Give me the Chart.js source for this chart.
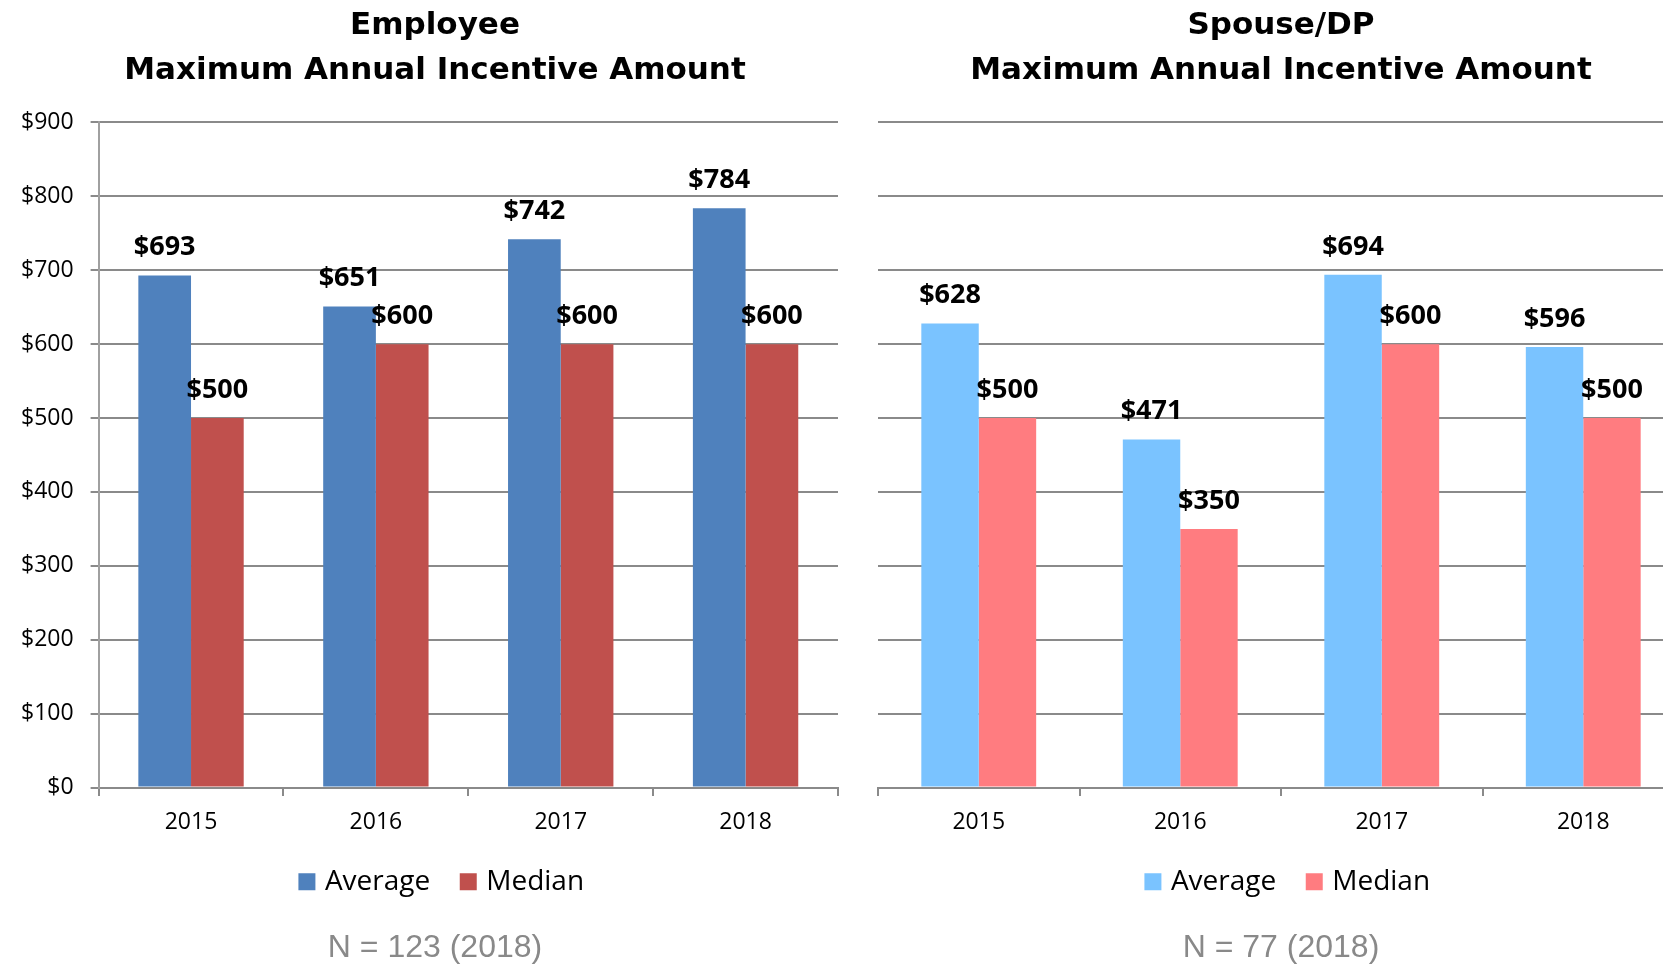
<!DOCTYPE html>
<html><head><meta charset="utf-8">
<script src="https://cdn.jsdelivr.net/npm/chart.js@4.4.1/dist/chart.umd.min.js"></script>
<style>
html,body{margin:0;padding:0;background:#fff;overflow:hidden;width:1663px;height:964px;}
#w1{position:absolute;left:0;top:0;width:870px;height:964px;}
#w2{position:absolute;left:870px;top:0;width:822px;height:964px;}
</style></head><body>
<div id="w1"><canvas id="c1"></canvas></div>
<div id="w2"><canvas id="c2"></canvas></div>
<script>
const years = ['2015', '2016', '2017', '2018'];
const employeeAverage = [693, 651, 742, 784];
const employeeMedian = [500, 600, 600, 600];
const spouseAverage = [628, 471, 694, 596];
const spouseMedian = [500, 350, 600, 500];
const yTickValues = [0, 100, 200, 300, 400, 500, 600, 700, 800, 900];
const seriesNames = ['Average', 'Median'];
const employeeTitle = ['Employee', 'Maximum Annual Incentive Amount'];
const spouseTitle = ['Spouse/DP', 'Maximum Annual Incentive Amount'];
const employeeNote = 'N = 123 (2018)';
const spouseNote = 'N = 77 (2018)';

Chart.defaults.font.family = "'Open Sans', sans-serif";
Chart.defaults.color = '#000';

const valueLabels = {
  id: 'valueLabels',
  afterLayout(chart) {
    // let the y tick labels use the space left of the axis box (label clip area)
    const s = chart.scales.y;
    if (s) { s.left = 0; }
    // nudge the legend slightly right, as in the original
    if (chart.legend) { chart.legend.left += 8.5; chart.legend.right += 8.5; }
  },
  afterDatasetsDraw(chart) {
    const ctx = chart.ctx;
    ctx.save();
    ctx.font = "bold 27px 'Open Sans', sans-serif";
    ctx.fillStyle = '#000';
    ctx.textAlign = 'center';
    ctx.textBaseline = 'alphabetic';
    chart.data.datasets.forEach((ds, i) => {
      const meta = chart.getDatasetMeta(i);
      meta.data.forEach((bar, j) => {
        ctx.fillText('$' + ds.data[j], bar.x, bar.y - 20);
      });
    });
    ctx.restore();
  }
};

const gridColor = '#8a8a8a';

function makeChart(id, title, note, avg, med, colors, showY, pad, yWidth) {
  return new Chart(document.getElementById(id), {
    type: 'bar',
    data: {
      labels: years,
      datasets: [
        { label: seriesNames[0], data: avg, backgroundColor: colors[0], borderWidth: 0,
          categoryPercentage: 0.57, barPercentage: 1.0 },
        { label: seriesNames[1], data: med, backgroundColor: colors[1], borderWidth: 0,
          categoryPercentage: 0.57, barPercentage: 1.0 }
      ]
    },
    options: {
      responsive: true,
      maintainAspectRatio: false,
      animation: false,
      layout: { padding: pad },
      plugins: {
        title: {
          display: true,
          text: title,
          color: '#000',
          font: { family: "'DejaVu Sans', sans-serif", weight: 'bold', size: 31, lineHeight: 1.44 },
          padding: { top: 4, bottom: 29.2 }
        },
        subtitle: {
          display: true,
          position: 'bottom',
          text: note,
          color: '#898989',
          font: { family: "'Liberation Sans', Arial, sans-serif", size: 32, lineHeight: 1.0 },
          padding: { top: 26.2, bottom: 0 }
        },
        legend: {
          position: 'bottom',
          labels: {
            usePointStyle: true, pointStyle: 'rect',
            boxWidth: 8, boxHeight: 17, padding: 34, color: '#000',
            font: { size: 28 }
          }
        },
        tooltip: { enabled: false }
      },
      scales: {
        x: {
          grid: { display: true, drawOnChartArea: false, offset: true, tickLength: 22.7,
                  tickBorderDash: [7, 40], color: gridColor, lineWidth: 2 },
          border: { display: true, color: gridColor, width: 2 },
          ticks: { font: { size: 23, lineHeight: 0.852 }, color: '#000', padding: 2 }
        },
        y: {
          min: 0, max: 900,
          afterBuildTicks: s => { s.ticks = yTickValues.map(v => ({ value: v })); },
          afterFit: s => { s.width = yWidth; },
          grid: { display: true, drawTicks: showY, tickLength: 8, color: gridColor, lineWidth: 2 },
          border: { display: showY, color: '#a0a0a0', width: 2 },
          ticks: { display: showY, font: { size: 23 }, color: '#000', padding: 17,
                   callback: v => '$' + v }
        }
      }
    },
    plugins: [valueLabels]
  });
}

makeChart('c1', employeeTitle, employeeNote, employeeAverage, employeeMedian,
  ['#4F81BD', '#C0504D'], true, { left: 32, right: 32, top: 0, bottom: 0 }, 66.6);
makeChart('c2', spouseTitle, spouseNote, spouseAverage, spouseMedian,
  ['#7AC3FF', '#FF7C80'], false, { left: 8, right: 8, top: 0, bottom: 0 }, 0);
</script>
</body></html>
